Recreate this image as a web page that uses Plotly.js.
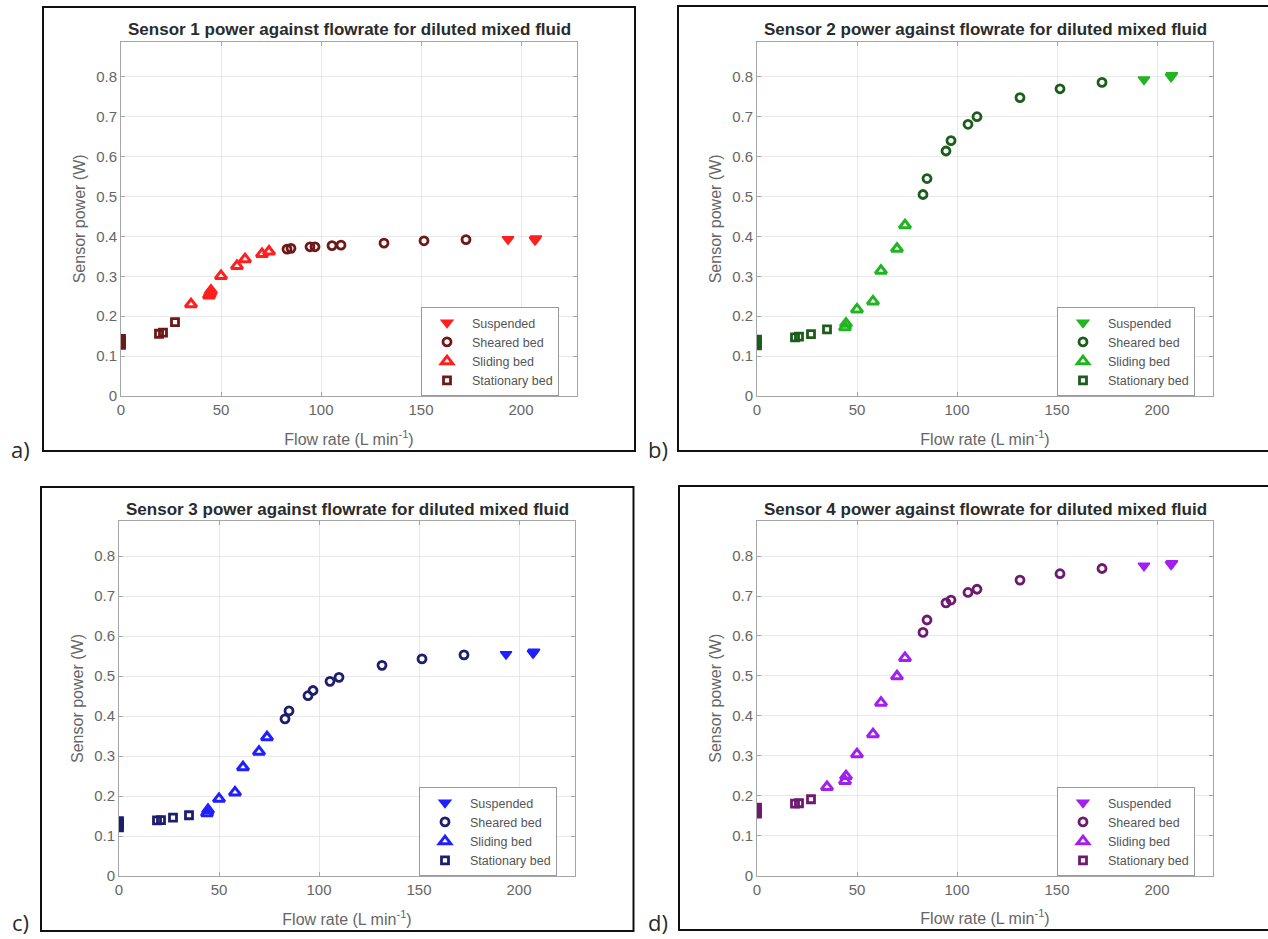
<!DOCTYPE html>
<html>
<head>
<meta charset="utf-8">
<script src="https://cdn.plot.ly/plotly-3.0.1.min.js"></script>
<style>html,body{margin:0;padding:0;background:#fff;}#chart{width:1268px;height:939px;}</style>
</head>
<body>
<div id="chart"></div>
<script>
// ---------- data ----------
const categories = ["Suspended", "Sheared bed", "Sliding bed", "Stationary bed"];
const panelTitles = [
  "Sensor 1 power against flowrate for diluted mixed fluid",
  "Sensor 2 power against flowrate for diluted mixed fluid",
  "Sensor 3 power against flowrate for diluted mixed fluid",
  "Sensor 4 power against flowrate for diluted mixed fluid"
];
const panelLabels = ["a)", "b)", "c)", "d)"];
const xTickVals = [0, 50, 100, 150, 200];
const yTickVals = [0, 0.1, 0.2, 0.3, 0.4, 0.5, 0.6, 0.7, 0.8];

// flow rates (L/min)
const flowSuspended = [193.5, 207, 207.5];
const flowSheared = [83, 85, 94.5, 97, 105.5, 110, 131.5, 151.5, 172.5];

// Sensor 1
const s1StationaryX = [0, 0, 0, 0, 19, 21, 27];
const s1StationaryY = [0.128, 0.133, 0.138, 0.143, 0.156, 0.159, 0.185];
const s1SlidingX = [35, 44, 44.5, 45, 50, 58, 62, 70.5, 74];
const s1SlidingY = [0.230, 0.252, 0.258, 0.264, 0.301, 0.326, 0.343, 0.356, 0.362];
const s1ShearedY = [0.368, 0.370, 0.374, 0.374, 0.377, 0.378, 0.383, 0.389, 0.392];
const s1SuspendedY = [0.393, 0.391, 0.395];

// Sensor 2
const s2StationaryX = [0, 0, 0, 0, 19, 21, 27, 35];
const s2StationaryY = [0.127, 0.132, 0.137, 0.141, 0.147, 0.149, 0.155, 0.167];
const s2SlidingX = [44, 44.5, 50, 58, 62, 70, 74];
const s2SlidingY = [0.172, 0.181, 0.217, 0.237, 0.314, 0.369, 0.428];
const s2ShearedY = [0.505, 0.545, 0.614, 0.640, 0.681, 0.700, 0.748, 0.770, 0.786];
const s2SuspendedY = [0.793, 0.800, 0.804];

// Sensor 3
const s3StationaryX = [0, 0, 0, 0, 19, 21, 27, 35];
const s3StationaryY = [0.122, 0.127, 0.132, 0.137, 0.139, 0.140, 0.146, 0.152];
const s3SlidingX = [44, 44.5, 50, 58, 62, 70, 74];
const s3SlidingY = [0.157, 0.165, 0.193, 0.209, 0.272, 0.311, 0.347];
const s3ShearedY = [0.393, 0.413, 0.451, 0.464, 0.487, 0.497, 0.527, 0.543, 0.553];
const s3SuspendedY = [0.555, 0.557, 0.561];

// Sensor 4
const s4StationaryX = [0, 0, 0, 0, 19, 21, 27];
const s4StationaryY = [0.155, 0.160, 0.165, 0.170, 0.180, 0.181, 0.191];
const s4SlidingX = [35, 44, 44.5, 50, 58, 62, 70, 74];
const s4SlidingY = [0.222, 0.237, 0.249, 0.304, 0.354, 0.433, 0.499, 0.545];
const s4ShearedY = [0.609, 0.640, 0.683, 0.690, 0.709, 0.717, 0.740, 0.756, 0.769];
const s4SuspendedY = [0.776, 0.779, 0.782];

// colours per panel: [bright, dark]
const brightColors = ["#ff1f1f", "#22b522", "#1f1fff", "#a21ff0"];
const darkColors = ["#6e1818", "#1b5e1b", "#1e1e70", "#6e1a70"];

// ---------- layout geometry (pixels) ----------
const W = 1268, H = 939;
const plotBoxes = [ // [left, right, top, bottom]
  [121, 577, 41.7, 396],
  [757, 1213, 41.7, 396],
  [119, 575, 521, 876],
  [757, 1213, 521, 875.5]
];
const legendPos = [[421, 307], [1057, 307], [419, 787], [1057, 787]];
const frames = [[43, 7, 635, 451], [678, 6, 1275, 451], [41, 487, 633.5, 931], [679, 486, 1275, 930]];
const labelPos = [[20, 449], [658, 449], [20, 922], [658, 922]];

const px = v => v / W;
const py = v => 1 - v / H;

const panels = [
  {stX: s1StationaryX, stY: s1StationaryY, slX: s1SlidingX, slY: s1SlidingY, shY: s1ShearedY, suY: s1SuspendedY},
  {stX: s2StationaryX, stY: s2StationaryY, slX: s2SlidingX, slY: s2SlidingY, shY: s2ShearedY, suY: s2SuspendedY},
  {stX: s3StationaryX, stY: s3StationaryY, slX: s3SlidingX, slY: s3SlidingY, shY: s3ShearedY, suY: s3SuspendedY},
  {stX: s4StationaryX, stY: s4StationaryY, slX: s4SlidingX, slY: s4SlidingY, shY: s4ShearedY, suY: s4SuspendedY}
];

const traces = [];
const layout = {
  width: W, height: H,
  margin: {l: 0, r: 0, t: 0, b: 0},
  paper_bgcolor: "#ffffff",
  plot_bgcolor: "#ffffff",
  font: {family: "Liberation Sans, Arial, sans-serif", color: "#555"},
  showlegend: true,
  annotations: [],
  shapes: []
};

panels.forEach((p, i) => {
  const n = i + 1;
  const xa = n === 1 ? "x" : "x" + n;
  const ya = n === 1 ? "y" : "y" + n;
  const leg = n === 1 ? "legend" : "legend" + n;
  const bright = brightColors[i], dark = darkColors[i];
  const common = {type: "scatter", mode: "markers", xaxis: xa, yaxis: ya, legend: leg, hoverinfo: "x+y"};
  traces.push(Object.assign({}, common, {
    name: categories[0], x: flowSuspended, y: p.suY,
    marker: {symbol: "triangle-down", size: 10, color: bright, line: {color: bright, width: 1.5}}
  }));
  traces.push(Object.assign({}, common, {
    name: categories[1], x: flowSheared, y: p.shY,
    marker: {symbol: "circle-open", size: 8, color: dark, line: {color: dark, width: 2.8}}
  }));
  traces.push(Object.assign({}, common, {
    name: categories[2], x: p.slX, y: p.slY,
    marker: {symbol: "triangle-up-open", size: 10, color: bright, line: {color: bright, width: 3}}
  }));
  traces.push(Object.assign({}, common, {
    name: categories[3], x: p.stX, y: p.stY,
    marker: {symbol: "square-open", size: 7, color: dark, line: {color: dark, width: 2.8}}
  }));

  const b = plotBoxes[i];
  const axCommon = {
    showgrid: true, gridcolor: "#e8e8e8", gridwidth: 1,
    showline: true, linecolor: "#a6a6a6", linewidth: 1, mirror: "ticks",
    ticks: "inside", ticklen: 4, tickcolor: "#a6a6a6",
    tickfont: {size: 15, color: "#666", family: "Liberation Sans, Arial, sans-serif"},
    zeroline: false, fixedrange: true, automargin: false
  };
  layout["xaxis" + (n === 1 ? "" : n)] = Object.assign({}, axCommon, {
    domain: [px(b[0]), px(b[1])], anchor: ya, range: [0, 228],
    tickvals: xTickVals, ticktext: xTickVals.map(String),
    title: {text: "Flow rate (L min<sup>-1</sup>)", font: {size: 16, color: "#666"}, standoff: 16}
  });
  layout["yaxis" + (n === 1 ? "" : n)] = Object.assign({}, axCommon, {
    domain: [py(b[3]), py(b[2])], anchor: xa, range: [0, 0.888],
    tickvals: yTickVals, ticktext: yTickVals.map(String),
    title: {text: "Sensor power (W)", font: {size: 16, color: "#666"}, standoff: 6}
  });
  layout[leg] = {
    x: px(legendPos[i][0]), y: py(legendPos[i][1]), xanchor: "left", yanchor: "top",
    xref: "paper", yref: "paper", itemwidth: 40,
    bgcolor: "#ffffff", bordercolor: "#9a9a9a", borderwidth: 1,
    font: {size: 12.5, color: "#555"}, traceorder: "normal", itemclick: false
  };
  layout.annotations.push({
    text: "<b>" + panelTitles[i] + "</b>", xref: "paper", yref: "paper",
    x: px((b[0] + b[1]) / 2), y: py((i < 2 ? 30 : 509)), xanchor: "center", yanchor: "middle",
    showarrow: false, font: {size: 17, color: "#2b2b2b"}
  });
  layout.annotations.push({
    text: panelLabels[i], xref: "paper", yref: "paper",
    x: px(labelPos[i][0]), y: py(labelPos[i][1]), xanchor: "center", yanchor: "middle",
    showarrow: false, font: {size: 22, color: "#2b2b2b", family: "Open Sans, sans-serif"}
  });
  const f = frames[i];
  layout.shapes.push({
    type: "rect", xref: "paper", yref: "paper",
    x0: px(f[0]), x1: px(f[2]), y0: py(f[3]), y1: py(f[1]),
    line: {color: "#111", width: 2}, fillcolor: "rgba(0,0,0,0)", layer: "below"
  });
});

Plotly.newPlot("chart", traces, layout, {displayModeBar: false, staticPlot: true});
</script>
</body>
</html>
